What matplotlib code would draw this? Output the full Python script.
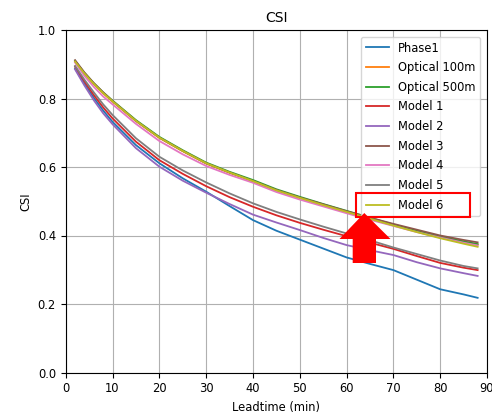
import matplotlib
matplotlib.use('Agg')
import matplotlib.pyplot as plt
from matplotlib.patches import Polygon, Rectangle

leadtime = [2, 4, 6, 8, 10, 15, 20, 25, 30, 35, 40, 45, 50, 55, 60, 65, 70, 75, 80, 85, 88]

phase1 = [0.888, 0.843, 0.802, 0.765, 0.732, 0.664, 0.611, 0.567, 0.528, 0.486, 0.445, 0.414, 0.388,
          0.362, 0.336, 0.317, 0.299, 0.271, 0.243, 0.228, 0.218]
optical_100m = [0.907, 0.872, 0.842, 0.815, 0.791, 0.734, 0.685, 0.646, 0.610, 0.583, 0.559, 0.532, 0.510,
                0.489, 0.469, 0.449, 0.430, 0.412, 0.395, 0.381, 0.373]
optical_500m = [0.910, 0.875, 0.845, 0.818, 0.794, 0.737, 0.688, 0.649, 0.613, 0.586, 0.562, 0.535, 0.513,
                0.492, 0.472, 0.452, 0.432, 0.414, 0.397, 0.383, 0.375]
model_1 = [0.893, 0.850, 0.810, 0.774, 0.742, 0.674, 0.620, 0.580, 0.544, 0.512, 0.484, 0.459, 0.437,
           0.417, 0.398, 0.379, 0.361, 0.340, 0.320, 0.306, 0.299]
model_2 = [0.885, 0.838, 0.795, 0.757, 0.725, 0.655, 0.601, 0.560, 0.525, 0.492, 0.461, 0.438, 0.416,
           0.393, 0.372, 0.357, 0.343, 0.322, 0.304, 0.290, 0.282]
model_3 = [0.912, 0.876, 0.845, 0.818, 0.793, 0.735, 0.686, 0.647, 0.611, 0.584, 0.559, 0.533, 0.511,
           0.491, 0.471, 0.452, 0.434, 0.417, 0.400, 0.387, 0.380]
model_4 = [0.905, 0.866, 0.834, 0.806, 0.783, 0.726, 0.676, 0.637, 0.603, 0.577, 0.554, 0.527, 0.505,
           0.485, 0.465, 0.446, 0.428, 0.410, 0.394, 0.379, 0.371]
model_5 = [0.895, 0.855, 0.818, 0.783, 0.752, 0.684, 0.630, 0.590, 0.555, 0.523, 0.494, 0.469, 0.447,
           0.426, 0.406, 0.386, 0.365, 0.346, 0.327, 0.311, 0.304]
model_6 = [0.908, 0.873, 0.843, 0.816, 0.792, 0.735, 0.686, 0.647, 0.611, 0.584, 0.559, 0.532, 0.510,
           0.489, 0.469, 0.449, 0.429, 0.410, 0.392, 0.376, 0.367]

series = [phase1, optical_100m, optical_500m, model_1, model_2, model_3, model_4, model_5, model_6]
labels = ['Phase1', 'Optical 100m', 'Optical 500m', 'Model 1', 'Model 2', 'Model 3',
          'Model 4', 'Model 5', 'Model 6']

plt.rcParams['font.size'] = 8.3

W, H = 492, 412
fig = plt.figure(figsize=(W / 100, H / 100), dpi=100)
ax = fig.add_axes([65.7 / W, 1 - 372.5 / H, (487 - 65.7) / W, (372.5 - 30) / H])

for values, label in zip(series, labels):
    ax.plot(leadtime, values, label=label, lw=1.3)

ax.set_xlim(0, 90)
ax.set_ylim(0, 1.0)
ax.set_xticks(range(0, 91, 10))
ax.set_yticks([0.0, 0.2, 0.4, 0.6, 0.8, 1.0])
ax.grid(True)
ax.set_title('CSI')
ax.set_xlabel('Leadtime (min)')
ax.set_ylabel('CSI')
ax.legend(loc='upper right', labelspacing=0.575, borderaxespad=0.6)


# helper: image pixel (y down) -> figure fraction
def px(x, y):
    return (x / W, 1 - y / H)


# red box around the Model 6 legend entry
x0, y0 = px(356, 217.3)
x1, y1 = px(470, 193.3)
fig.patches.append(Rectangle((x0, y0), x1 - x0, y1 - y0, transform=fig.transFigure,
                             fill=False, edgecolor='red', lw=1.5, zorder=10))

# red arrow pointing at it
arrow_pts = [px(364.3, 213), px(339.5, 239), px(352.7, 239), px(352.7, 263),
             px(376, 263), px(376, 239), px(390.5, 239)]
fig.patches.append(Polygon(arrow_pts, closed=True, transform=fig.transFigure,
                           facecolor='red', edgecolor='none', zorder=10))

fig.savefig('out.png', dpi=100)
